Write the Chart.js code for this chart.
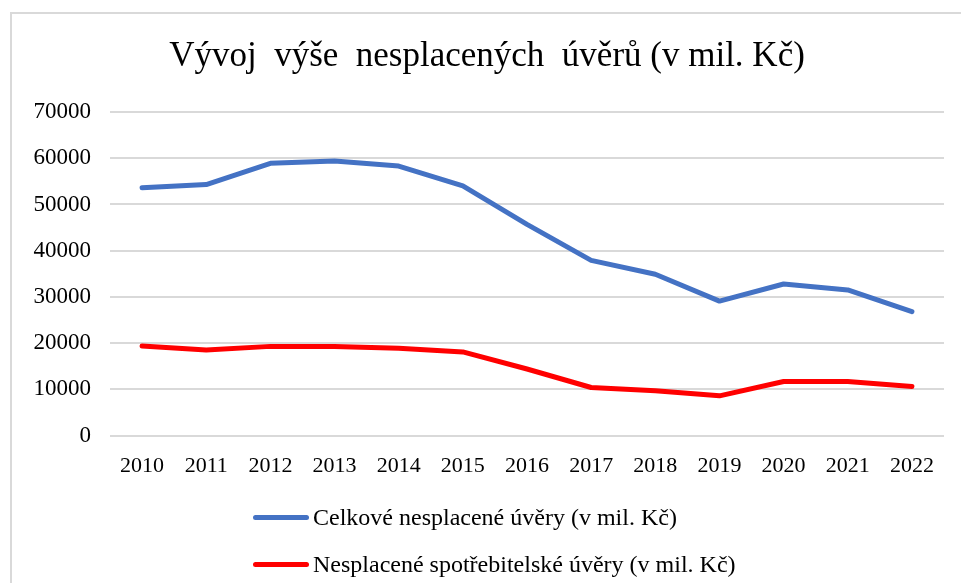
<!DOCTYPE html>
<html>
<head>
<meta charset="utf-8">
<script src="https://cdn.jsdelivr.net/npm/chart.js@4/dist/chart.umd.min.js"></script>
<style>
    body { margin: 0; background: #fff; }
    #frame { position: absolute; left: 10px; top: 12px; width: 1000px; height: 620px; border: 2px solid #d9d9d9; box-sizing: border-box; }
    #wrap { position: absolute; left: 0; top: 0; width: 961px; height: 583px; }
    #legend { position: absolute; left: 253px; top: 494px; font-family: 'Liberation Serif', 'Times New Roman', serif; font-size: 24px; color: #000; }
    .item { display: flex; align-items: center; height: 47px; }
    .swatch { width: 56px; height: 5px; border-radius: 3px; margin-right: 4px; }
</style>
</head>
<body>
<div id="frame"></div>
<div id="wrap"><canvas id="lineChart" width="961" height="583"></canvas></div>
<div id="legend"></div>
<script>
const years = ['2010', '2011', '2012', '2013', '2014', '2015', '2016', '2017', '2018', '2019', '2020', '2021', '2022'];
const totalLoans = [53600, 54300, 58900, 59400, 58300, 54000, 45700, 37900, 34900, 29100, 32800, 31500, 26800];
const consumerLoans = [19400, 18500, 19300, 19300, 18900, 18100, 14400, 10400, 9700, 8600, 11700, 11700, 10600];
const seriesNames = ['Celkové nesplacené úvěry (v mil. Kč)', 'Nesplacené spotřebitelské úvěry (v mil. Kč)'];
const titleText = 'Vývoj  výše  nesplacených  úvěrů (v mil. Kč)';

const serif = "'Liberation Serif', 'Times New Roman', serif";

const ctx = document.getElementById('lineChart').getContext('2d');
const chart = new Chart(ctx, {
    type: 'line',
    data: {
        labels: years,
        datasets: [{
            label: seriesNames[0],
            data: totalLoans,
            borderColor: '#4472C4',
            backgroundColor: '#4472C4',
            borderWidth: 5,
            pointRadius: 0,
            borderCapStyle: 'round',
            borderJoinStyle: 'round',
            tension: 0
        }, {
            label: seriesNames[1],
            data: consumerLoans,
            borderColor: '#FF0000',
            backgroundColor: '#FF0000',
            borderWidth: 5,
            pointRadius: 0,
            borderCapStyle: 'round',
            borderJoinStyle: 'round',
            tension: 0
        }]
    },
    options: {
        responsive: false,
        animation: false,
        layout: {
            padding: { left: 30, right: 17, top: 0, bottom: 95 }
        },
        plugins: {
            legend: { display: false },
            tooltip: { enabled: false },
            title: {
                display: true,
                text: titleText,
                color: '#000',
                font: { family: serif, size: 35, weight: 'normal' },
                padding: { top: 36, bottom: 34 }
            }
        },
        scales: {
            x: {
                offset: true,
                grid: { display: false, offset: true },
                border: { display: false },
                ticks: {
                    color: '#000',
                    font: { family: serif, size: 22 },
                    padding: 9,
                    maxRotation: 0
                }
            },
            y: {
                min: 0,
                max: 70000,
                afterFit: (scale) => { scale.width = 80; },
                grid: { color: '#d9d9d9', lineWidth: 2, drawTicks: false },
                border: { display: false },
                ticks: {
                    stepSize: 10000,
                    color: '#000',
                    font: { family: serif, size: 23 },
                    padding: 19,
                    callback: (v) => String(v)
                }
            }
        }
    }
});

// legend built from the chart's own datasets, one item per row like the original
const legendEl = document.getElementById('legend');
chart.data.datasets.forEach(ds => {
    const row = document.createElement('div');
    row.className = 'item';
    const sw = document.createElement('span');
    sw.className = 'swatch';
    sw.style.background = ds.borderColor;
    const txt = document.createElement('span');
    txt.textContent = ds.label;
    row.appendChild(sw);
    row.appendChild(txt);
    legendEl.appendChild(row);
});
</script>
</body>
</html>
